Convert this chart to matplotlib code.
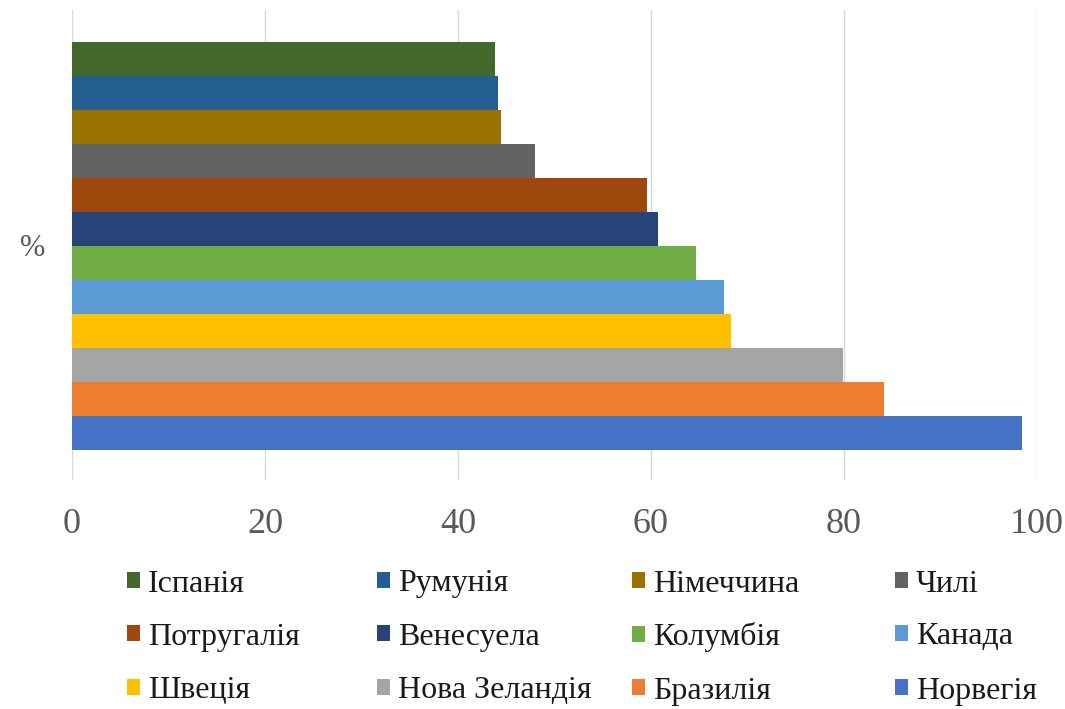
import numpy as np
import matplotlib.pyplot as plt
from matplotlib.patches import Patch

plt.rcParams['font.family'] = ['Liberation Serif', 'DejaVu Serif']

# series in legend order (top bar first)
countries = ['Іспанія', 'Румунія', 'Німеччина', 'Чилі',
             'Потругалія', 'Венесуела', 'Колумбія', 'Канада',
             'Швеція', 'Нова Зеландія', 'Бразилія', 'Норвегія']
values = [43.8, 44.1, 44.5, 48.0,
          59.6, 60.7, 64.7, 67.6,
          68.3, 79.9, 84.1, 98.4]
colors = ['#43682B', '#255E91', '#997300', '#636363',
          '#9E480E', '#264478', '#70AD47', '#5B9BD5',
          '#FFC000', '#A5A5A5', '#ED7D31', '#4472C4']
category = '%'
xticks = [0, 20, 40, 60, 80, 100]

W, H = 1065, 709
fig = plt.figure(figsize=(W / 100, H / 100), dpi=100)
ax = fig.add_axes([72 / W, 1 - 480 / H, (1037 - 72) / W, (480 - 10) / H])

n = len(countries)
bar_h = 34 / 470
for i, (name, val, col) in enumerate(zip(countries, values, colors)):
    y = ((n - 1) / 2 - i) * bar_h - 1 / 470
    ax.barh(y, val, height=bar_h, color=col, label=name, zorder=3)

ax.set_xlim(0, 100)
ax.set_ylim(-0.5, 0.5)
ax.set_xticks(xticks)
ax.set_xticklabels([str(t) for t in xticks], fontsize=26, color='#595959')
ax.set_yticks([0])
ax.set_yticklabels([category], fontsize=22, color='#595959')
ax.tick_params(axis='x', length=0, pad=20)
ax.tick_params(axis='y', length=0, pad=19)
ax.grid(axis='x', color='#d9d9d9', linewidth=1, zorder=0)
for s in ax.spines.values():
    s.set_visible(False)

# legend: 4 equal-width columns, 3 rows, row-major order
col_x = [127, 377, 632, 895]
row_y = [584, 637, 691]
for k, (name, col) in enumerate(zip(countries, colors)):
    r, c = divmod(k, 4)
    fig.legend([Patch(facecolor=col)], [name], loc='center left',
               bbox_to_anchor=(col_x[c] / W, 1 - row_y[r] / H),
               frameon=False, fontsize=23, handlelength=0.4, handleheight=0.4,
               handletextpad=0.25, borderpad=0, borderaxespad=0,
               labelcolor='#1a1a1a')

fig.savefig('out.png', dpi=100)
